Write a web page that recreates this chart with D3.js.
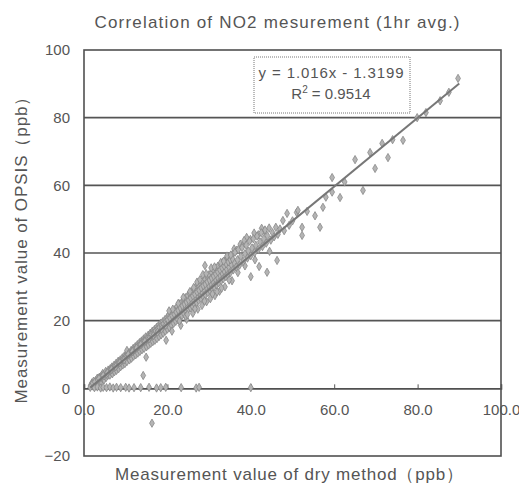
<!DOCTYPE html>
<html>
<head>
<meta charset="utf-8">
<script src="https://cdn.jsdelivr.net/npm/d3@7"></script>
<style>
  body { margin: 0; background: #fff; }
  text { font-family: "Liberation Sans", Arial, sans-serif; fill: #555; }
</style>
</head>
<body>
<div id="chart"></div>
<script>
// values (dry method ppb, OPSIS ppb)
const bandPoints = [
  [1.6,0.9],[1.9,1.6],[2.1,0.7],[2.3,2.1],[2.5,1.3],[2.7,0.9],[2.9,2.4],[3.0,1.6],[3.2,3.0],[3.4,2.2],
  [3.5,1.4],[3.7,3.3],[3.9,2.6],[4.0,1.9],[4.2,3.8],[4.4,2.9],[4.5,4.4],[4.7,3.4],[4.8,2.5],[5.0,4.1],
  [5.2,5.0],[5.3,3.2],[5.5,4.4],[5.7,3.8],[5.8,5.4],[6.0,4.6],
  [6.2,3.9],[6.3,5.8],[6.5,5.0],[6.7,6.3],[6.8,4.3],[7.0,5.6],[7.2,6.8],[7.3,4.9],[7.5,6.1],[7.7,7.4],
  [7.8,5.3],[8.0,6.6],[8.2,8.0],[8.3,5.8],[8.5,7.1],[8.7,8.4],[8.8,6.4],[9.0,7.6],[9.2,9.0],[9.3,6.9],
  [9.5,8.1],[9.7,9.6],[9.8,7.3],[10.0,8.7],[10.2,10.1],[10.3,7.9],[10.3,11.2],[10.6,9.2],[10.8,10.5],[10.9,8.4],
  [11.1,9.9],[11.3,11.2],[11.4,8.9],[11.6,10.3],[11.8,11.8],[11.9,9.5],
  [12.1,10.8],[12.3,12.3],[12.4,9.9],[12.6,11.4],[12.8,12.9],[12.9,10.4],[13.1,11.9],[13.3,13.5],[13.4,10.9],[13.6,12.5],
  [13.8,14.0],[13.9,11.4],[14.1,13.0],[14.3,14.6],[14.4,11.8],[14.6,13.4],[14.8,15.2],[14.9,9.2],[15.0,12.3],[15.2,14.0],
  [15.4,15.7],[15.5,12.8],[15.7,14.5],[15.9,16.3],[16.0,13.3],[16.2,15.0],[16.4,16.9],[16.5,13.8],[16.7,15.6],[16.9,17.4],
  [17.0,14.2],[17.2,16.1],[17.4,18.0],[17.5,14.7],[17.7,16.6],[17.9,18.6],[18.0,15.3],[18.2,17.2],[18.4,19.2],[18.5,15.8],
  [18.7,17.7],[18.9,19.7],[19.0,16.3],[19.2,18.3],[19.4,20.3],[19.5,16.9],[19.7,18.8],[19.7,14.2],[19.9,20.9],
  [20.0,17.5],[20.2,19.4],[20.3,21.6],[20.5,18.0],[20.7,20.0],[20.8,22.3],[21.0,18.6],[21.1,16.9],[21.2,20.6],[21.4,22.8],
  [21.5,19.2],[21.7,21.2],[21.9,23.4],[22.0,19.8],[22.2,21.7],[22.3,24.2],[22.5,20.3],[22.7,22.4],[22.8,25.0],[23.0,20.9],
  [23.2,23.0],[23.2,18.6],[23.4,25.4],[23.5,21.5],[23.7,23.5],[23.9,26.0],[24.0,22.0],[24.2,24.1],[24.3,26.8],[24.5,22.6],
  [24.6,20.4],[24.7,24.7],[24.9,27.4],[25.0,23.2],[25.2,25.3],[25.3,28.1],[25.5,23.8],[25.7,25.9],[25.8,28.6],[26.0,24.3],
  [26.1,22.2],[26.2,26.4],[26.4,29.2],[26.5,24.9],[26.7,27.0],[26.8,30.0],[27.0,25.4],[27.2,27.6],[27.3,23.4],[27.4,30.5],
  [27.5,26.0],[27.7,28.2],[27.9,31.1],
  [28.0,26.6],[28.2,28.8],[28.3,24.5],[28.4,31.7],[28.6,27.1],[28.8,29.3],[29.0,32.3],[29.0,36.3],[29.1,27.7],[29.3,29.9],
  [29.4,25.6],[29.5,33.0],[29.7,28.3],[29.9,30.5],[30.0,33.6],[30.2,28.9],[30.3,26.5],[30.4,31.1],[30.6,34.2],[30.7,29.4],
  [30.9,31.7],[31.1,34.9],[31.2,30.0],[31.4,27.4],[31.5,32.3],[31.6,35.5],[31.8,30.6],[32.0,32.9],[32.1,36.1],[32.3,31.2],
  [32.5,28.7],[32.6,33.5],[32.7,36.7],[32.9,31.8],[33.1,34.1],[33.3,37.3],[33.4,32.4],[33.6,34.7],[33.8,30.0],[33.9,37.9],
  [34.0,33.0],[34.2,35.3],[34.4,38.5],[34.5,33.6],[34.7,36.0],[34.9,39.0],[35.1,34.2],[35.3,36.6],[35.5,31.8],[35.6,39.6],
  [35.8,35.0],[36.0,37.2],
  [2.0,1.3],[2.6,1.9],[3.3,2.5],[3.8,3.0],[4.3,3.4],[4.9,3.7],[5.4,4.2],[5.9,4.9],[6.4,5.4],[6.9,5.9],
  [7.4,6.6],[7.9,6.9],[8.4,7.6],[8.9,8.0],[9.4,8.6],[9.9,9.2],[10.5,9.8],[11.0,10.2],[11.5,10.9],[12.0,11.3],
  [12.5,12.0],[13.0,12.4],[13.5,13.1],[14.0,13.5],[14.5,14.1],[15.1,14.7],[15.6,15.2],[16.1,15.9],[16.6,16.3],[17.1,16.9],
  [17.6,17.4],[18.1,18.0],[18.6,18.4],[19.1,19.1],[19.6,19.6],[20.1,20.3],[20.6,20.8],[21.1,21.5],[21.6,22.0],[22.1,22.6],
  [22.6,23.1],[23.1,23.8],[23.6,24.4],[24.1,24.9],[24.6,25.5],[25.1,26.0],[25.6,26.7],[26.1,27.3],[26.6,27.8],[27.1,28.5],
  [27.6,29.0],[28.1,29.7],[28.6,30.3],[29.1,30.8],[29.6,31.5],[30.1,32.0],[30.6,32.6],[31.1,33.2],[31.6,33.8],[32.1,34.4],
  [32.6,35.0],[33.1,35.6],[33.6,36.2],[34.1,36.8],[34.6,37.4],[35.1,38.0],[35.6,38.3],
  [3.6,2.9],[4.6,3.8],[5.6,4.6],[6.6,5.6],[7.6,6.4],[8.6,7.6],[9.6,8.4],[10.6,10.0],[11.6,10.9],[12.6,11.9],
  [13.6,12.9],[14.6,13.9],[15.6,14.6],[16.6,15.6],[17.6,16.6],[18.6,17.5],[19.6,18.6],
  [20.4,22.9],[21.3,23.4],[22.6,25.1],[23.8,26.9],[24.4,21.3],[25.4,28.6],[26.3,29.8],[27.1,31.4],[27.8,32.1],[28.5,33.6],
  [29.3,33.9],[30.5,35.6],[31.3,35.9],[31.9,28.5],[32.8,37.2],[33.5,37.6],[34.3,39.1],[35.2,39.4],[36.0,41.2],[36.6,40.8],
  [37.5,42.6],[38.0,42.1],[39.0,44.6],[39.9,44.0],[40.8,45.9],[41.8,45.4],[42.6,47.3],[43.3,46.5],
  [22.9,19.9],[24.8,21.8],[26.6,23.5],[28.9,25.8],[30.8,27.9],[33.0,29.6],[34.8,32.0],[36.9,34.2],[38.6,36.2],[41.0,38.0],
  [44.5,40.5]
];
const scatterPoints = [
  [36.2,40.2],[36.5,35.8],[36.8,38.0],[37.0,41.0],[37.3,36.4],[37.6,39.0],[37.9,41.6],[38.2,37.5],[38.4,43.7],[38.6,39.8],
  [38.9,42.3],[39.2,38.5],[39.4,40.6],[39.7,43.5],[40.0,39.2],[40.0,33.0],[40.3,41.5],[40.6,44.2],[40.9,40.1],[41.2,42.3],
  [41.5,45.0],[41.8,41.0],[42.0,36.0],[42.2,43.3],[42.5,46.0],[42.8,41.9],[43.1,44.2],[43.4,46.8],[43.7,42.9],[43.9,34.3],
  [44.0,45.1],[44.4,47.4],[44.8,43.8],[45.2,46.0],[45.6,44.8],[46.0,47.6],[46.3,37.8],[46.5,45.5],[47.0,47.1],[47.7,49.6],
  [48.0,46.6],[48.7,51.7],[49.2,48.2],[50.0,49.5],
  [51.0,52.0],[51.3,52.6],[52.3,47.6],[52.3,45.2],[53.5,52.3],[55.4,51.0],[56.6,47.6],[57.3,53.5],[58.0,56.5],[59.5,62.3],
  [59.5,58.0],[61.4,56.4],[62.5,61.0],[65.0,67.6],[66.9,58.5],[68.6,69.7],[69.8,65.0],[71.5,72.4],[72.9,68.2],[74.0,73.5],
  [76.5,73.3],[79.9,80.0],[82.0,81.5],[85.4,85.0],[87.5,87.5],[89.7,91.6],
  [1.5,0.3],[2.5,0.2],[3.2,0.4],[4.0,0.1],[4.6,0.3],[5.4,0.2],[6.2,0.4],[7.0,0.1],[7.8,0.3],[8.8,0.2],
  [10.0,0.3],[10.8,0.1],[12.0,0.2],[13.6,0.2],[15.6,0.3],[17.4,0.1],[18.4,0.2],[19.6,0.3],[23.3,0.2],[26.9,0.1],
  [27.6,0.3],[40.0,0.2],
  [14.2,3.8],[16.3,-10.3]
];

const xTicks = [0, 20, 40, 60, 80, 100];
const yTicks = [-20, 0, 20, 40, 60, 80, 100];
const gridValues = [20, 40, 60, 80];
const slope = 1.016, intercept = -1.3199, rSquared = "0.9514";
const fitRange = [1.5, 90];

const W = 519, H = 486;
const margin = { top: 50, right: 18, bottom: 30, left: 84 };

const svg = d3.select("#chart").append("svg")
  .attr("width", W).attr("height", H);

const x = d3.scaleLinear().domain([0, 100]).range([margin.left, W - margin.right]);
const y = d3.scaleLinear().domain([-20, 100]).range([H - margin.bottom, margin.top]);

// gridlines
svg.append("g").selectAll("line").data(gridValues).join("line")
  .attr("x1", x(0)).attr("x2", x(100))
  .attr("y1", d => y(d)).attr("y2", d => y(d))
  .attr("stroke", "#555").attr("stroke-width", 1.6);

// frame
svg.append("rect")
  .attr("x", x(0)).attr("y", y(100))
  .attr("width", x(100) - x(0)).attr("height", y(-20) - y(100))
  .attr("fill", "none").attr("stroke", "#505050").attr("stroke-width", 1.6);

// y axis labels
const yAxis = svg.append("g")
  .attr("transform", `translate(${x(0)},0)`)
  .call(d3.axisLeft(y).tickValues(yTicks).tickSize(0).tickPadding(14));
yAxis.select(".domain").remove();
yAxis.selectAll("text").style("font-size", "15px").attr("fill", "#555");

// x axis on y = 0
const xAxis = svg.append("g")
  .attr("transform", `translate(0,${y(0)})`)
  .call(d3.axisBottom(x).tickValues(xTicks).tickSize(-4).tickPadding(16)
    .tickFormat(d3.format(".1f")));
xAxis.select(".domain").attr("stroke", "#505050").attr("stroke-width", 1.6);
xAxis.selectAll(".tick line").attr("stroke", "#555");
xAxis.selectAll("text").style("font-size", "15px").attr("fill", "#555");

// points
const diamond = d3.symbol().type(d3.symbolDiamond).size(20);
svg.append("g").selectAll("path").data(bandPoints.concat(scatterPoints)).join("path")
  .attr("transform", d => `translate(${x(d[0])},${y(d[1])})`)
  .attr("d", diamond)
  .attr("fill", "#b4b4b4").attr("stroke", "#888").attr("stroke-width", 0.8);

// fitted line
svg.append("line")
  .attr("x1", x(fitRange[0])).attr("y1", y(slope * fitRange[0] + intercept))
  .attr("x2", x(fitRange[1])).attr("y2", y(slope * fitRange[1] + intercept))
  .attr("stroke", "#777").attr("stroke-width", 2);

// equation box
svg.append("rect")
  .attr("x", 254).attr("y", 57).attr("width", 156).attr("height", 56)
  .attr("fill", "#fff").attr("stroke", "#777").attr("stroke-width", 1)
  .attr("stroke-dasharray", "1,1");
svg.append("text").attr("x", 331).attr("y", 78).attr("text-anchor", "middle")
  .style("font-size", "15px").attr("textLength", 145)
  .text(`y = ${slope}x - ${Math.abs(intercept)}`);
const r2 = svg.append("text").attr("x", 331).attr("y", 99).attr("text-anchor", "middle")
  .style("font-size", "15px");
r2.append("tspan").text("R");
r2.append("tspan").attr("dy", -6).style("font-size", "10px").text("2");
r2.append("tspan").attr("dy", 6).text(` = ${rSquared}`);

// titles
svg.append("text").attr("x", 277).attr("y", 28).attr("text-anchor", "middle")
  .style("font-size", "17px").attr("textLength", 365)
  .text("Correlation of NO2 mesurement (1hr avg.)");
svg.append("text").attr("x", 289).attr("y", 480).attr("text-anchor", "middle")
  .style("font-size", "17px").attr("textLength", 348)
  .text("Measurement value of dry method（ppb）");
svg.append("text").attr("transform", "translate(27,246) rotate(-90)")
  .attr("text-anchor", "middle")
  .style("font-size", "17px").attr("textLength", 315)
  .text("Measurement value  of OPSIS（ppb）");
</script>
</body>
</html>
